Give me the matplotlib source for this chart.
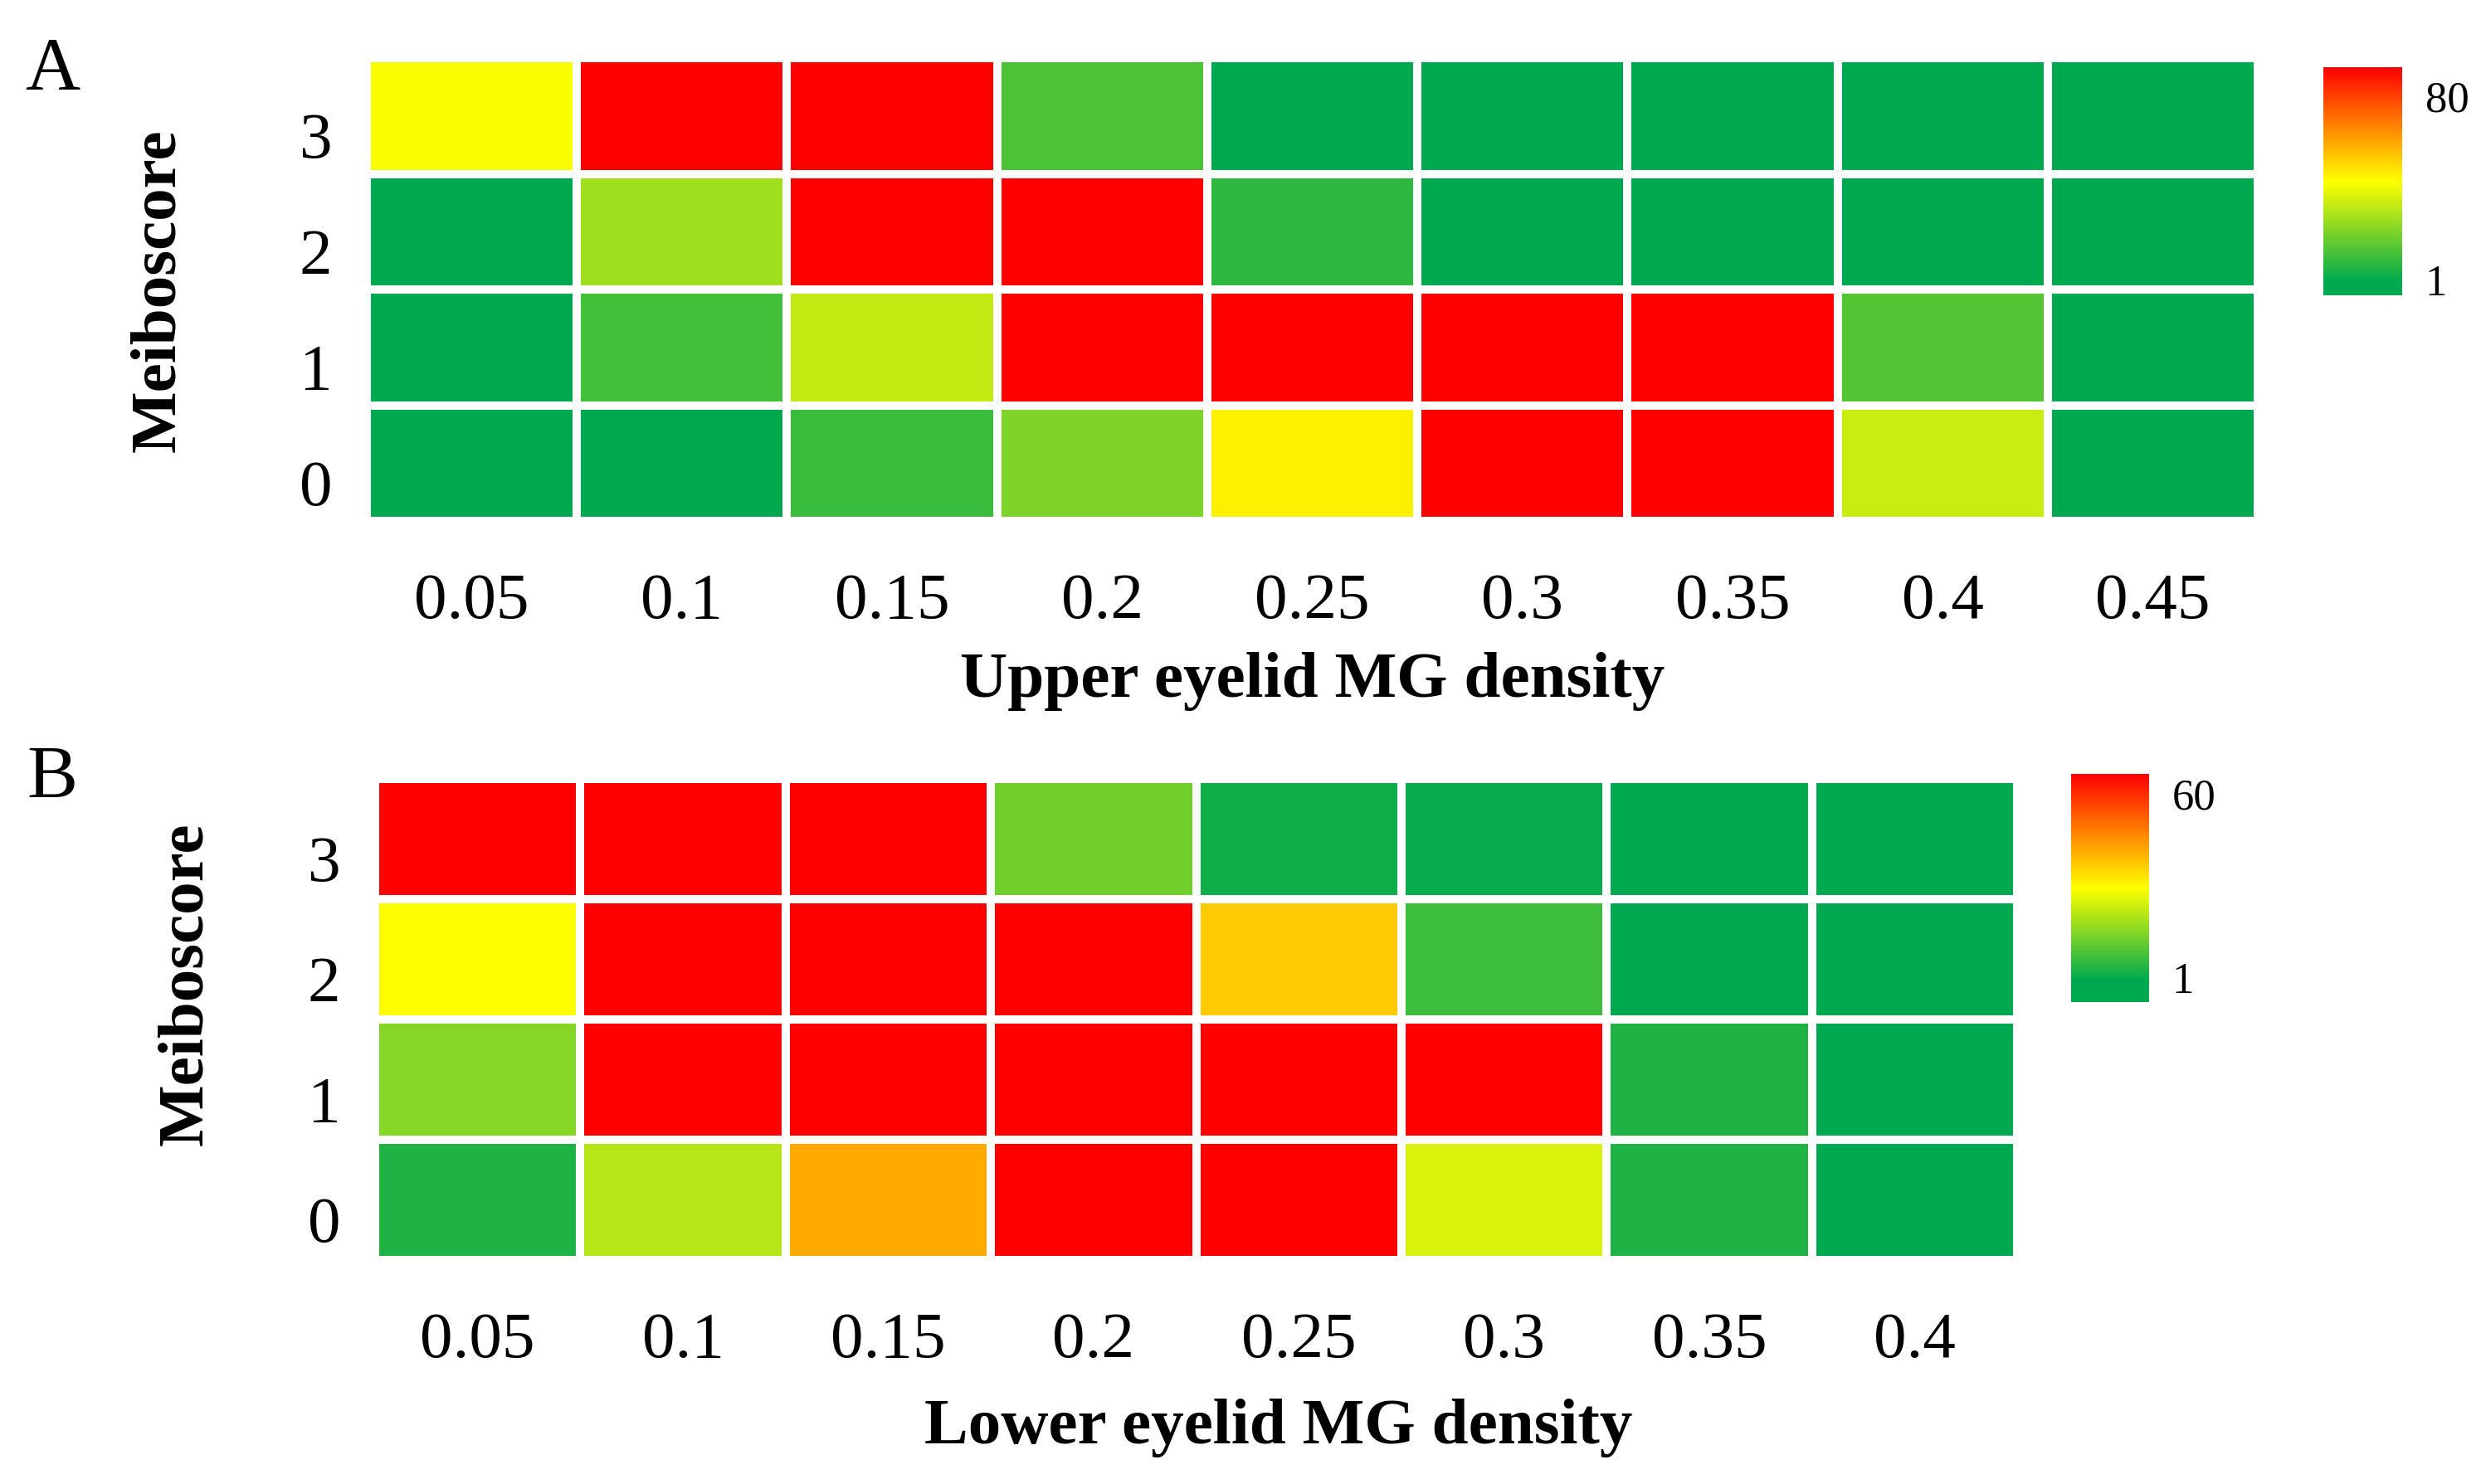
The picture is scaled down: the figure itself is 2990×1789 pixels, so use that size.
import numpy as np
import matplotlib
matplotlib.use("Agg")
import matplotlib.pyplot as plt
import matplotlib.transforms as mtrans
from matplotlib.colors import LinearSegmentedColormap, Normalize

plt.rcParams['font.family'] = ['Liberation Serif', 'DejaVu Serif']

# meiboscore rows, bottom to top
scores = ['0', '1', '2', '3']

# panel A: upper eyelid
upper_density = ['0.05', '0.1', '0.15', '0.2', '0.25', '0.3', '0.35', '0.4', '0.45']
upper_s0 = [0, 0, 10, 21.5, 46, 92, 92, 34, 0]
upper_s1 = [0, 11.5, 33, 92, 92, 92, 92, 14, 0]
upper_s2 = [0, 27, 92, 92, 7.5, 0, 0, 0, 0]
upper_s3 = [42, 92, 92, 13, 0, 0, 0, 0, 0]
upper_ticks = [1, 80]

# panel B: lower eyelid
lower_density = ['0.05', '0.1', '0.15', '0.2', '0.25', '0.3', '0.35', '0.4']
lower_s0 = [3.8, 21, 41.5, 66, 66, 25, 3.8, 0]
lower_s1 = [15.5, 66, 66, 66, 66, 66, 3.7, 0]
lower_s2 = [29.5, 66, 66, 66, 37, 7, 0, 0]
lower_s3 = [66, 66, 66, 13, 1.8, 1.2, 0, 0]
lower_ticks = [1, 60]

GREEN = '#00A94F'
W, H, DPI = 2990, 1790, 100
FS = 57


def px_rect(x0, y0, x1, y1):
    return [x0 / W, 1 - y1 / H, (x1 - x0) / W, (y1 - y0) / H]


def make_cmap(anchor):
    return LinearSegmentedColormap.from_list(
        'gyr', [(0, GREEN), (anchor, GREEN), (0.5, '#FFFF00'), (1, '#FF0000')])


def draw_panel(fig, rect, cbar_rect, rows, cols, vmin, vmax, ticks, xlabel,
               xlabel_pos, ylabel_pos, row_px):
    z = np.array(rows, dtype=float)
    cmap = make_cmap((0 - vmin) / (vmax - vmin))
    norm = Normalize(vmin=vmin, vmax=vmax)
    ax = fig.add_axes(rect)
    mesh = ax.pcolormesh(z, cmap=cmap, norm=norm, edgecolors='white', linewidth=7)
    ax.set_xlim(0, z.shape[1])
    ax.set_ylim(0, z.shape[0])
    for s in ax.spines.values():
        s.set_visible(False)
    ax.set_xticks(np.arange(z.shape[1]) + 0.5)
    ax.set_xticklabels(cols, fontsize=FS)
    ax.set_yticks(np.arange(z.shape[0]) + 0.5)
    ax.set_yticklabels(scores, fontsize=FS)
    ax.tick_params(length=0)
    ax.tick_params(axis='x', pad=44)
    ax.tick_params(axis='y', pad=30)
    off = mtrans.ScaledTranslation(0, -row_px / DPI, fig.dpi_scale_trans)
    for lab in ax.get_yticklabels():
        lab.set_transform(lab.get_transform() + off)
    ax.set_xlabel(xlabel, fontsize=FS, fontweight='bold', va='center')
    ax.xaxis.set_label_coords(*xlabel_pos)
    ax.set_ylabel('Meiboscore', fontsize=FS, fontweight='bold', va='center')
    ax.yaxis.set_label_coords(*ylabel_pos)

    cax = fig.add_axes(cbar_rect)
    cb = fig.colorbar(mesh, cax=cax)
    cb.outline.set_visible(False)
    cb.set_ticks(ticks)
    cb.ax.tick_params(length=0, labelsize=38, pad=20)
    return ax


fig = plt.figure(figsize=(W / DPI, H / DPI), dpi=DPI)

draw_panel(fig, px_rect(442, 71, 2721, 629), px_rect(2800, 82, 2895, 357),
           [upper_s0, upper_s1, upper_s2, upper_s3], upper_density, -6, 92,
           upper_ticks, 'Upper eyelid MG density', (0.5, -0.345), (-0.11, 0.5), 22)

draw_panel(fig, px_rect(452, 940, 2431, 1520), px_rect(2496, 934, 2590, 1209),
           [lower_s0, lower_s1, lower_s2, lower_s3], lower_density, -7, 66,
           lower_ticks, 'Lower eyelid MG density', (0.55, -0.348), (-0.1147, 0.576), 22)

fig.text(63 / W, 1 - 86 / H, 'A', fontsize=66, ha='center', va='center')
fig.text(63 / W, 1 - 940 / H, 'B', fontsize=66, ha='center', va='center')

fig.savefig('out.png', dpi=DPI, facecolor='white')
